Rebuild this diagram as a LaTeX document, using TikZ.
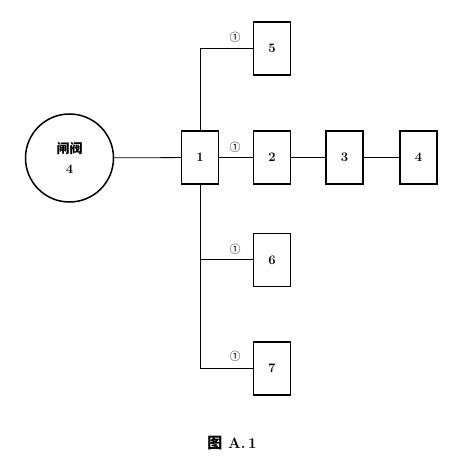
\documentclass[tikz,border=0pt]{standalone}
\usepackage{fontspec}
\newfontfamily\cjk{Noto Sans CJK SC}
\begin{document}
\begin{tikzpicture}[x=1pt,y=-1pt,
  box/.style={draw,line width=1.3pt,minimum width=37pt,minimum height=53pt,inner sep=0pt,font=\fontsize{13}{15}\selectfont\bfseries},
  wire/.style={line width=0.8pt},
  mark1/.style={font=\cjk\fontsize{11}{13}\selectfont,inner sep=0pt}]
\useasboundingbox (0,0) rectangle (460,457);
\node[circle,draw,line width=1.5pt,minimum size=88pt,inner sep=0pt,align=center,font=\fontsize{13}{20}\selectfont\bfseries] (v) at (69.5,158) {{\cjk\bfseries\fontsize{13}{20}\selectfont 闸阀}\\4};
\node[box] (n1) at (200,157.5) {1};
\node[box] (n2) at (272,157.5) {2};
\node[box] (n3) at (344.5,157.5) {3};
\node[box] (n4) at (418.5,157.5) {4};
\node[box] (n5) at (272,48.5) {5};
\node[box] (n6) at (272,260) {6};
\node[box] (n7) at (272,368.5) {7};
\coordinate (t5) at (200,48);
\coordinate (t6) at (200,259.5);
\coordinate (t7) at (200,368);
\draw[wire] (v) -- (n1);
\draw[wire] (n1) -- (n2);
\draw[wire] (n2) -- (n3);
\draw[wire] (n3) -- (n4);
\draw[wire] (n1.north) -- (t5) -- (n5.west |- t5);
\draw[wire] (n1.south) -- (t7) -- (n7.west |- t7);
\draw[wire] (t6) -- (n6.west |- t6);
\node[mark1] (m5) at (235,37) {①};
\node[mark1] (m2) at (235,147) {①};
\node[mark1] (m6) at (235,249) {①};
\node[mark1] (m7) at (235,356) {①};
\node[font=\fontsize{15}{17}\selectfont\bfseries] (cap) at (232,443) {{\cjk\bfseries 图}\ A.\,1};
\end{tikzpicture}
\end{document}
